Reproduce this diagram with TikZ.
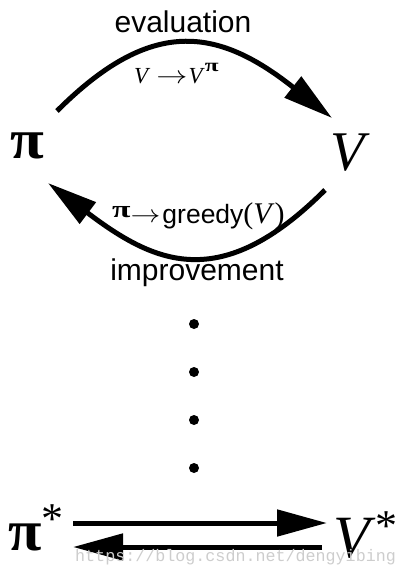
\documentclass[tikz,border=0pt]{standalone}
\usepackage{fontspec}
\setmainfont{Liberation Serif}
\newfontfamily\sansf{Liberation Sans}
\newfontfamily\monof{Liberation Mono}
\usetikzlibrary{arrows.meta}
\definecolor{wmgray}{RGB}{205,205,205}
\newcommand{\thinarrow}[1]{\scalebox{#1}[1]{$\rightarrow$}}
\newcommand{\widepi}[1]{\scalebox{#1}[1]{π}}
\begin{document}
\begin{tikzpicture}[x=1pt,y=-1pt,
  arc/.style={line width=5pt, -{Triangle[length=50pt,width=26pt]}},
  bigsym/.style={inner sep=0pt, anchor=base},
  lbl/.style={inner sep=0pt, anchor=base, font=\sansf\fontsize{30}{30}\selectfont},
  dot/.style={circle, fill=black, inner sep=0pt, minimum size=10pt}]
\useasboundingbox (0,0) rectangle (407,576);

% main symbols
\node[bigsym, font=\bfseries\fontsize{56}{56}\selectfont] (pi) at (27,158) {\widepi{1.1}};
\node[bigsym, font=\itshape\fontsize{56}{56}\selectfont] (V) at (348,170) {V};

% labels
\node[lbl] (eval) at (183,32) {evaluation};
\node[lbl] (impr) at (197,280) {improvement};
\node[inner sep=0pt, anchor=base west, font=\fontsize{23}{23}\selectfont] (evallab) at (134,83)
  {\textit{V}\hspace{6pt}\thinarrow{1.25}\hspace{1pt}\textit{V}\raisebox{12pt}{\bfseries\fontsize{18}{18}\selectfont\widepi{1.4}}};
\node[inner sep=0pt, anchor=base west] (imprlab) at (112,223)
  {\raisebox{6pt}{\bfseries\fontsize{24}{24}\selectfont\widepi{1.4}}\raisebox{1pt}{\fontsize{23}{23}\selectfont\thinarrow{1.2}}\hspace{2pt}{\sansf\fontsize{26.5}{26.5}\selectfont greedy}{\fontsize{30}{30}\selectfont(\textit{V})}};

% arcs
\coordinate (evS) at (57,111);
\coordinate (evE) at (332,118);
\coordinate (imS) at (325,190);
\coordinate (imE) at (48,183);
\draw[arc] (evS) .. controls (151,17) and (217,27) .. (evE);
\draw[arc] (imS) .. controls (220,295) and (154,263) .. (imE);

% dots
\node[dot] (d1) at (194,324) {};
\node[dot] (d2) at (194,372) {};
\node[dot] (d3) at (194,420) {};
\node[dot] (d4) at (194,468) {};

% optimum
\node[inner sep=0pt, anchor=base west, font=\bfseries\fontsize{58}{58}\selectfont] (pistar) at (8,550)
  {\widepi{1.05}\raisebox{17pt}{\mdseries\fontsize{44}{44}\selectfont *}};
\node[inner sep=0pt, anchor=base west, font=\fontsize{60}{60}\selectfont] (Vstar) at (333,557)
  {\textit{V}\raisebox{17pt}{\fontsize{44}{44}\selectfont *}};
\coordinate (a1s) at (73,523);
\coordinate (a1e) at (327,523);
\coordinate (a2s) at (322,547);
\coordinate (a2e) at (73,547);
\draw[arc] (a1s) -- (a1e);
\draw[arc] (a2s) -- (a2e);

% watermark
\node[inner sep=0pt, anchor=base west, text=wmgray, font=\monof\fontsize{16.7}{16.7}\selectfont] (wm) at (75,561)
  {https://blog.csdn.net/dengyibing};
\end{tikzpicture}
\end{document}
